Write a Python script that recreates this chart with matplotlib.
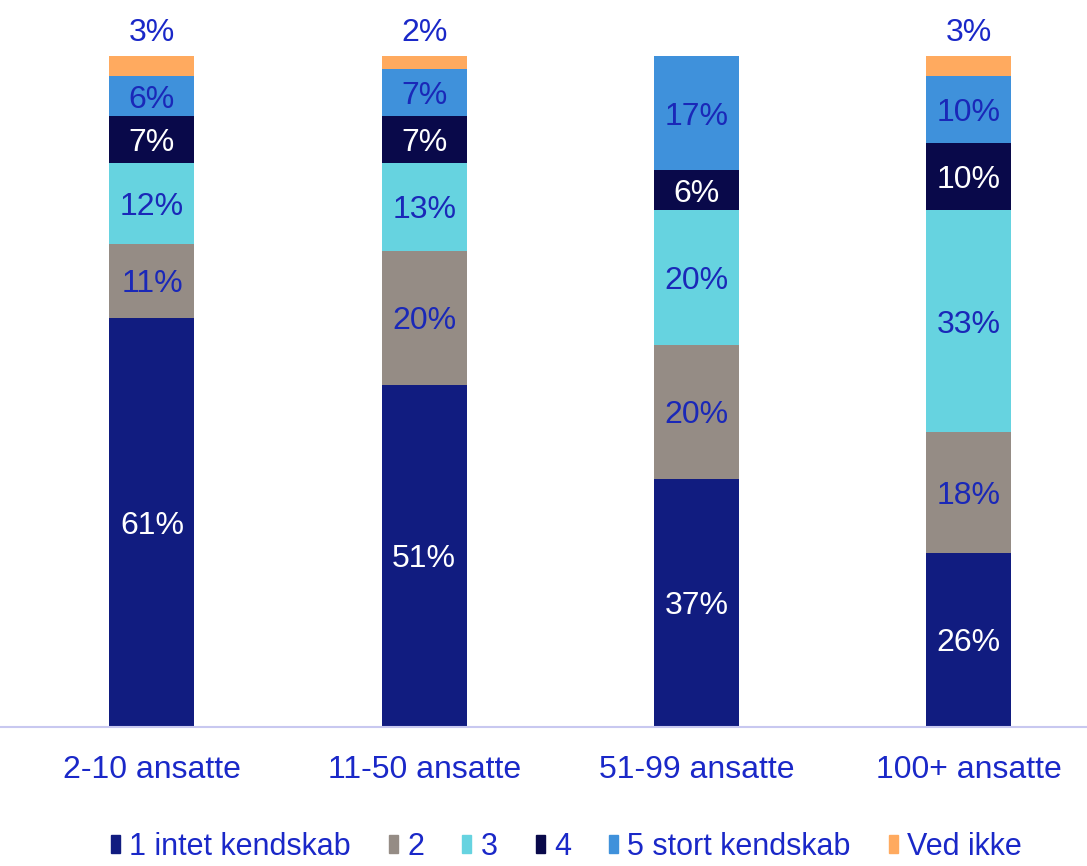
import numpy as np
import matplotlib.pyplot as plt
from matplotlib.patches import Patch

plt.rcParams['font.family'] = ['Liberation Sans', 'DejaVu Sans']

categories = ['2-10 ansatte', '11-50 ansatte', '51-99 ansatte', '100+ ansatte']
series = ['1 intet kendskab', '2', '3', '4', '5 stort kendskab', 'Ved ikke']
v1 = [61, 51, 37, 26]
v2 = [11, 20, 20, 18]
v3 = [12, 13, 20, 33]
v4 = [7, 7, 6, 10]
v5 = [6, 7, 17, 10]
v_vi = [3, 2, 0, 3]

colors = ['#111C80', '#958C85', '#66D3E0', '#09094A', '#3F91DB', '#FFAA5F']
text_cols = ['white', '#1A28B8', '#1A28B8', 'white', '#1A28B8', '#1A28B8']
blue = '#1A28C8'

fig = plt.figure(figsize=(10.87, 8.66), dpi=100)
ax = fig.add_axes([0, 0.1605, 1, 0.7748])

x = np.arange(len(categories))
w = 0.312
bottom = np.zeros(len(categories))
data = [v1, v2, v3, v4, v5, v_vi]
for vals, c, tc, name in zip(data, colors, text_cols, series):
    vals = np.array(vals, dtype=float)
    ax.bar(x, vals, w, bottom=bottom, color=c, label=name)
    for i, v in enumerate(vals):
        if v == 0:
            continue
        if name == 'Ved ikke':
            ax.text(x[i], 104.0, f'{int(v)}%', ha='center', va='center_baseline',
                    fontsize=23, color=blue, clip_on=False)
        else:
            ax.text(x[i], bottom[i] + v / 2, f'{int(v)}%', ha='center',
                    va='center_baseline', fontsize=23, color=tc)
    bottom += vals

ax.set_xlim(-0.558, 3.434)
ax.set_ylim(0, 100)
for s in ['top', 'right', 'left']:
    ax.spines[s].set_visible(False)
ax.spines['bottom'].set_color('#C8C8F0')
ax.spines['bottom'].set_linewidth(1.5)
ax.set_yticks([])
ax.set_xticks(x)
ax.set_xticklabels(categories, fontsize=23, color=blue)
ax.tick_params(axis='x', length=0, pad=20)

handles = [Patch(color=c) for c in colors]
fig.legend(handles, series, loc='center', bbox_to_anchor=(0.521, 0.022), ncol=6,
           frameon=False, fontsize=22, handlelength=0.3, handleheight=0.55,
           handletextpad=0.3, columnspacing=1.25, labelcolor=blue)

fig.savefig('out.png', dpi=100)
